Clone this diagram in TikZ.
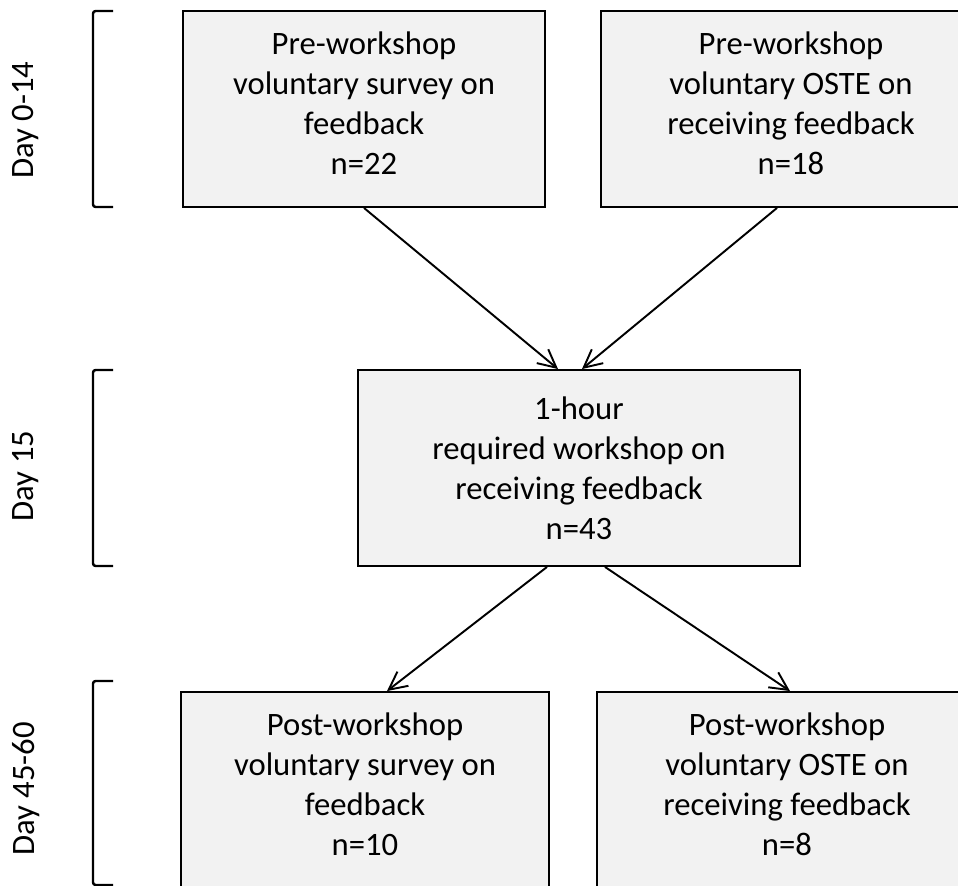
\documentclass[tikz,border=0pt]{standalone}
\usepackage{fontspec}
\setmainfont{Carlito}
\usetikzlibrary{positioning,arrows.meta,calc}
\definecolor{boxgray}{HTML}{F2F2F2}

\begin{document}
\begin{tikzpicture}[
  x=0.02cm, y=-0.02cm,
  stage/.style={draw=black, fill=boxgray, line width=1.1pt, align=center,
                minimum height=3.92cm, inner sep=0pt},
  lifted/.style={text depth=0.24cm},
  flow/.style={-{Straight Barb[length=0.36cm, width=0.36cm]}, line width=1.1pt},
  bracket/.style={line width=1.4pt, rounded corners=1.5pt},
  every node/.style={font=\fontsize{18.6pt}{22.7pt}\selectfont}
]
  \useasboundingbox (0,0) rectangle (958,886);

  % --- time brackets with day labels ---
  \foreach \top/\bot/\ty/\daytext in {11/207/120/Day 0-14, 370/566/476/Day 15, 681/885/789/Day 45-60} {
    \draw[bracket] (113,\top) -- (93,\top) -- (93,\bot) -- (113,\bot);
    \node[rotate=90] at (26,\ty) {\daytext};
  }

  % --- pre-workshop row ---
  \node[stage, lifted, minimum width=7.24cm] (presurvey) at (364,109)
    {Pre-workshop\\voluntary survey on\\feedback\\n=22};
  \node[stage, lifted, minimum width=7.6cm] (preoste) at (791,109)
    {Pre-workshop\\voluntary OSTE on\\receiving feedback\\n=18};

  % --- required workshop ---
  \node[stage, minimum width=8.84cm] (workshop) at (579,468)
    {1-hour\\required workshop on\\receiving feedback\\n=43};

  % --- post-workshop row ---
  \node[stage, lifted, minimum width=7.36cm] (postsurvey) at (365,790)
    {Post-workshop\\voluntary survey on\\feedback\\n=10};
  \node[stage, lifted, minimum width=7.6cm] (postoste) at (787,790)
    {Post-workshop\\voluntary OSTE on\\receiving feedback\\n=8};

  % --- connectors ---
  \draw[flow] (presurvey.south) -- ([xshift=-0.42cm]workshop.north);
  \draw[flow] ([xshift=-0.28cm]preoste.south) -- ([xshift=0.06cm]workshop.north);
  \draw[flow] ([xshift=-0.64cm]workshop.south) -- ([xshift=0.44cm]postsurvey.north);
  \draw[flow] ([xshift=0.52cm]workshop.south) -- ([xshift=0.06cm]postoste.north);

\end{tikzpicture}
\end{document}
